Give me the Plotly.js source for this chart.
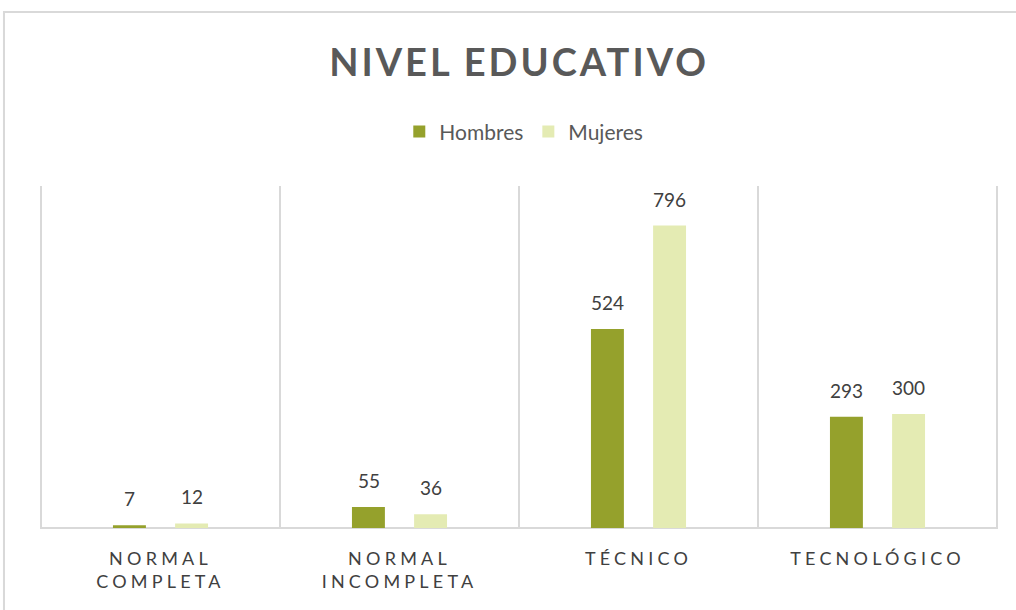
<!DOCTYPE html>
<html><head><meta charset="utf-8">
<script src="https://cdn.plot.ly/plotly-3.0.1.min.js"></script>
<style>
html,body{margin:0;padding:0;background:#fff;}
#chart{width:1016px;height:610px;}
.xtick text{letter-spacing:4.2px;}
.gtitle{letter-spacing:3px;}
</style></head>
<body><div id="chart"></div>
<script>
const categories = ["NORMAL<br>COMPLETA", "NORMAL<br>INCOMPLETA", "TÉCNICO", "TECNOLÓGICO"];
const hombres = [7, 55, 524, 293];
const mujeres = [12, 36, 796, 300];
const seriesNames = ["Hombres", "Mujeres"];

const gridColor = "#d9d9d9";
const fam = "Lato, 'Open Sans', sans-serif";
const shapes = [];
for (let i = 0; i <= categories.length; i++) {
  shapes.push({type:"line", xref:"x", yref:"paper", x0:i-0.5, x1:i-0.5, y0:0, y1:1,
    line:{color:gridColor, width:2}, layer:"below"});
}
// outer chart border
shapes.push({type:"rect", xref:"paper", yref:"paper", x0:-0.0376, x1:1.1, y0:-0.5, y1:1.509,
  line:{color:"#d9d9d9", width:2}, fillcolor:"rgba(0,0,0,0)", layer:"below"});

// data labels as annotations above each bar
const labelFont = {family:fam, size:19, color:"#404040"};
const annotations = [];
[hombres, mujeres].forEach((vals, s) => {
  vals.forEach((v, i) => {
    annotations.push({x:categories[i], y:v, xref:"x", yref:"y", text:String(v), showarrow:false,
      xanchor:"center", yanchor:"bottom", xshift:(s === 0 ? -31 : 31), yshift:13, font:labelFont});
  });
});

const traces = [
  {type:"bar", name:seriesNames[0], x:categories, y:hombres, marker:{color:"#95a12c"}, hoverinfo:"none"},
  {type:"bar", name:seriesNames[1], x:categories, y:mujeres, marker:{color:"#e4ebb3"}, hoverinfo:"none"}
];

const layout = {
  width:1016, height:610,
  margin:{l:40, r:18, t:186, b:82},
  paper_bgcolor:"#fff", plot_bgcolor:"#fff",
  title:{text:"<b>NIVEL EDUCATIVO</b>", x:0.5, xref:"paper", xanchor:"center", y:0.897, yanchor:"middle",
    font:{family:fam, size:38, color:"#595959"}},
  barmode:"group", bargap:0.48, bargroupgap:0.47,
  showlegend:true,
  legend:{orientation:"h", x:0.505, xanchor:"center", y:1.158, yanchor:"middle",
    font:{family:fam, size:21, color:"#595959"},
    itemwidth:30, traceorder:"normal"},
  xaxis:{type:"category", showgrid:false, zeroline:false, showline:false, ticks:"",
    tickfont:{family:fam, size:18, color:"#404040"},
    automargin:false, ticklabelstandoff:18},
  yaxis:{range:[0,900], showgrid:false, zeroline:true, zerolinecolor:gridColor, zerolinewidth:2,
    showticklabels:false, ticks:"", showline:false, automargin:false},
  annotations:annotations,
  shapes:shapes
};
Plotly.newPlot("chart", traces, layout, {displayModeBar:false, staticPlot:true});
</script></body></html>
